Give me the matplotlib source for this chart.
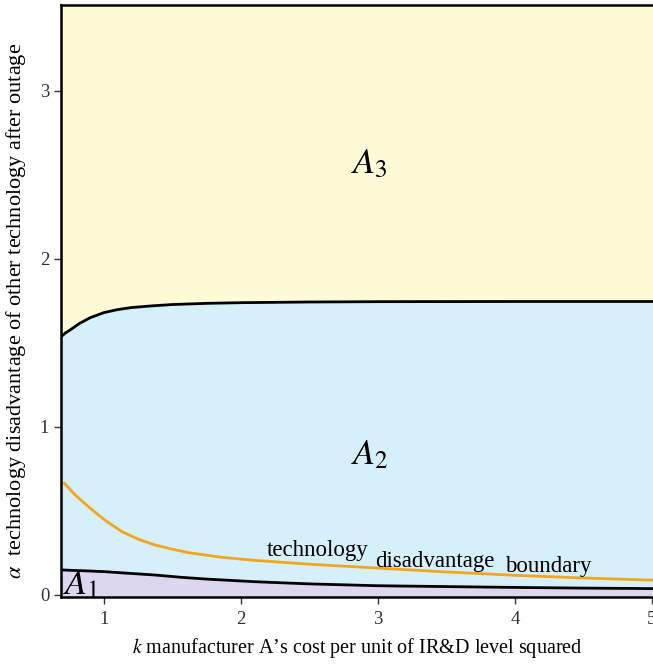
import numpy as np
import matplotlib
matplotlib.use('Agg')
import matplotlib.pyplot as plt

plt.rcParams['font.family'] = ['Liberation Serif', 'DejaVu Serif']
plt.rcParams['mathtext.fontset'] = 'stix'

# upper boundary (A2 / A3)
k_up = [0.686, 0.72, 0.75, 0.82, 0.9, 1.0, 1.1, 1.2, 1.35, 1.5, 1.75, 2.0, 2.5, 3.0, 4.0, 5.01]
a_up = [1.536, 1.56, 1.575, 1.615, 1.65, 1.68, 1.698, 1.71, 1.72, 1.728, 1.735, 1.739, 1.743, 1.745, 1.746, 1.746]

# lower boundary (A1 / A2)
k_low = [0.686, 0.85, 1.0, 1.2, 1.37, 1.55, 1.74, 2.1, 2.5, 3.0, 3.5, 4.0, 4.5, 5.01]
a_low = [0.149, 0.144, 0.139, 0.128, 0.119, 0.106, 0.095, 0.079, 0.066, 0.055, 0.050, 0.045, 0.041, 0.038]

# technology disadvantage boundary (orange)
k_tech = [0.71, 0.79, 0.885, 1.0, 1.13, 1.25, 1.37, 1.5, 1.615, 1.86, 2.1, 2.5, 3.0, 3.5, 4.0, 4.5, 5.01]
a_tech = [0.665, 0.595, 0.526, 0.449, 0.377, 0.332, 0.298, 0.272, 0.252, 0.224, 0.206, 0.183, 0.160, 0.137, 0.117, 0.101, 0.088]

xticks = [1, 2, 3, 4, 5]
yticks = [0, 1, 2, 3]

fig = plt.figure(figsize=(6.53, 6.64), dpi=100)
ax = fig.add_axes([0.0934, 0.1009, 0.9066, 0.8916])
ax.set_facecolor('#FFFBD7')
ax.fill_between(k_up, -1, a_up, color='#D6F0FA', lw=0)
ax.fill_between(k_low, -1, a_low, color='#DDD6EE', lw=0)

ax.plot(k_up, a_up, color='black', lw=2)
ax.plot(k_low, a_low, color='black', lw=2)
ax.plot(k_tech, a_tech, color='#F2A51F', lw=2)

ax.set_xlim(0.686, 5.007)
ax.set_ylim(-0.012, 3.51)
ax.set_xticks(xticks)
ax.set_yticks(yticks)
ax.tick_params(labelsize=13.5, length=5, width=1, colors='#333333', labelcolor='#333333')
ax.tick_params(axis='x', pad=5)
ax.spines['right'].set_visible(False)
for s in ['left', 'bottom', 'top']:
    ax.spines[s].set_linewidth(1.8)

ax.text(2.94, 2.56, r'$A_3$', fontsize=26, ha='center', va='center')
ax.text(2.94, 0.83, r'$A_2$', fontsize=26, ha='center', va='center')
ax.text(0.70, 0.005, r'$A_1$', fontsize=26, ha='left', va='baseline')

ax.text(2.19, 0.262, 'technology', fontsize=16.5, ha='left', va='center')
ax.text(2.98, 0.202, 'disadvantage', fontsize=16.5, ha='left', va='center')
ax.text(3.93, 0.167, 'boundary', fontsize=16.5, ha='left', va='center')

ax.set_xlabel(r'$k$ manufacturer A’s cost per unit of IR&D level squared', fontsize=14.5)
ax.set_ylabel(r'$\alpha$  technology disadvantage of other technology after outage', fontsize=16)
ax.xaxis.set_label_coords(0.5, -0.066)
ax.yaxis.set_label_coords(-0.056, 0.483)

fig.savefig('out.png', dpi=100)
